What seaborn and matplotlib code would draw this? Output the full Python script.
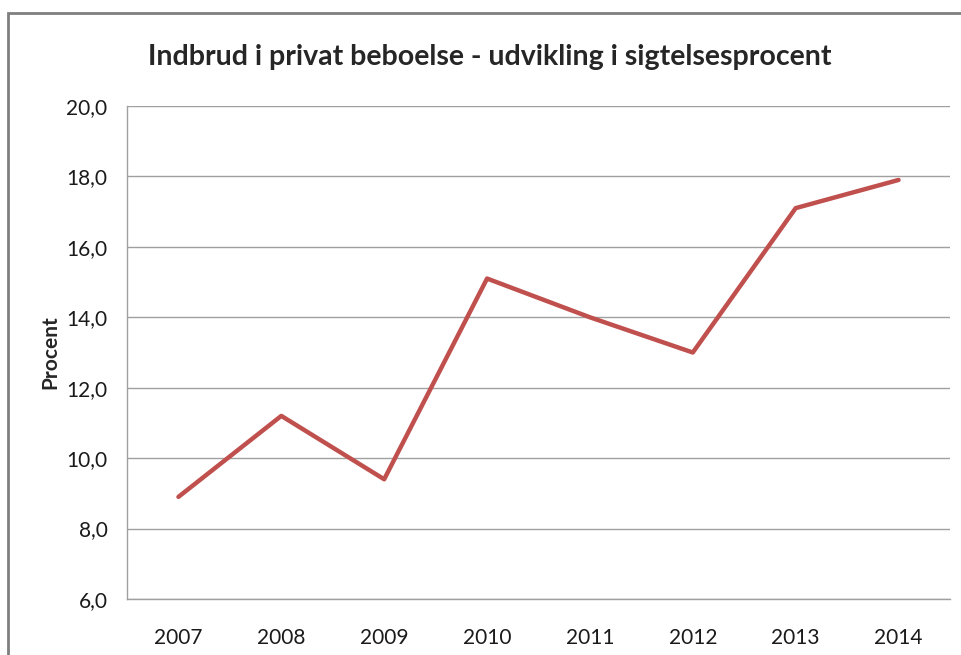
import matplotlib
matplotlib.use('Agg')
import matplotlib.pyplot as plt
import seaborn as sns
import pandas as pd
from matplotlib.patches import Rectangle

# Data
years = ['2007', '2008', '2009', '2010', '2011', '2012', '2013', '2014']
sigtelsesprocent = [8.9, 11.2, 9.4, 15.1, 14.0, 13.0, 17.1, 17.9]

df = pd.DataFrame({'År': years, 'Procent': sigtelsesprocent})

sns.set_style('white')
plt.rcParams['font.family'] = ['Lato', 'DejaVu Sans']

fig = plt.figure(figsize=(9.61, 6.55), dpi=100)
ax = fig.add_axes([127 / 961, 1 - 599 / 655, (950 - 127) / 961, (599 - 106) / 655])

sns.lineplot(data=df, x='År', y='Procent', ax=ax, color='#C0504D', linewidth=3.2, sort=False)

ax.set_ylim(6, 20)
ax.set_yticks([6, 8, 10, 12, 14, 16, 18, 20])
ax.set_yticklabels([f'{v:.1f}'.replace('.', ',') for v in ax.get_yticks()])
ax.set_xlim(-0.5, len(years) - 0.5)
ax.yaxis.grid(True, color='#A0A0A0', linewidth=1.0)
ax.set_axisbelow(True)
ax.tick_params(axis='y', labelsize=15, colors='#1a1a1a', length=0, pad=14)
ax.tick_params(axis='x', labelsize=15, colors='#1a1a1a', length=0, pad=21)
ax.set_xlabel('')
ax.set_ylabel('Procent', fontsize=15, fontweight='bold', labelpad=4)

for side in ['top', 'right']:
    ax.spines[side].set_visible(False)
for side in ['left', 'bottom']:
    ax.spines[side].set_color('#A0A0A0')
    ax.spines[side].set_linewidth(1.0)

fig.text(490 / 961, 1 - 57 / 655, 'Indbrud i privat beboelse - udvikling i sigtelsesprocent',
         ha='center', va='center', fontsize=20.5, fontweight='bold')

# Ramme om diagrammet
fig.patches.append(Rectangle((8 / 961, -0.1), 1.2, 1 - 13 / 655 + 0.1, transform=fig.transFigure,
                             fill=False, edgecolor='#7F7F7F', linewidth=2))

fig.savefig('out.png', dpi=100)
